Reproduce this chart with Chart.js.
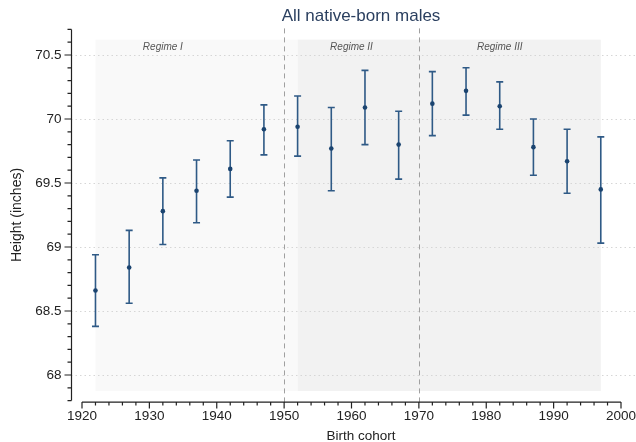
<!DOCTYPE html>
<html>
<head>
<meta charset="utf-8">
<script src="https://cdn.jsdelivr.net/npm/chart.js@4"></script>
<style>
  html, body { margin: 0; padding: 0; background: #ffffff; }
  #wrap { width: 636px; height: 442px; }
</style>
</head>
<body>
<div id="wrap"><canvas id="chart" width="636" height="442"></canvas></div>
<script>
// Mean height by five-year birth cohort, with 95% confidence bounds
const cohorts    = [1922, 1927, 1932, 1937, 1942, 1947, 1952, 1957, 1962, 1967, 1972, 1977, 1982, 1987, 1992, 1997];
const meanHeight = [68.66, 68.84, 69.28, 69.44, 69.61, 69.92, 69.94, 69.77, 70.09, 69.80, 70.12, 70.22, 70.10, 69.78, 69.67, 69.45];
const ciLow      = [68.38, 68.56, 69.02, 69.19, 69.39, 69.72, 69.71, 69.44, 69.80, 69.53, 69.87, 70.03, 69.92, 69.56, 69.42, 69.03];
const ciHigh     = [68.94, 69.13, 69.54, 69.68, 69.83, 70.11, 70.18, 70.09, 70.38, 70.06, 70.37, 70.40, 70.29, 70.00, 69.92, 69.86];

// Regimes and the cohort years that separate them
const regimeNames  = ['Regime I', 'Regime II', 'Regime III'];
const regimeLabelX = [1932, 1960, 1982];
const breakYears   = [1950, 1970];
const regimeSpans  = [[1922, 1952], [1952, 1997]];

// Axis ticks
const yTicks = [68, 68.5, 69, 69.5, 70, 70.5];
const xTicks = [1920, 1930, 1940, 1950, 1960, 1970, 1980, 1990, 2000];

const FONT = '"Liberation Sans", Arial, Helvetica, sans-serif';
const BAR_COLOR = '#2f5a86';
const POINT_COLOR = '#1b4470';

const decorations = {
  id: 'decorations',
  beforeDatasetsDraw(chart) {
    const { ctx, chartArea } = chart;
    const xs = chart.scales.x, ys = chart.scales.y;
    const axisX = chartArea.left - 11;

    ctx.save();
    // regime shading
    const shadeColors = ['#f9f9f9', '#f2f2f2'];
    const shTop = ys.getPixelForValue(70.62), shBot = ys.getPixelForValue(67.875);
    regimeSpans.forEach((s, i) => {
      const x0 = xs.getPixelForValue(s[0]), x1 = xs.getPixelForValue(s[1]);
      ctx.fillStyle = shadeColors[i];
      ctx.fillRect(x0, shTop, x1 - x0, shBot - shTop);
    });

    // dotted horizontal grid
    ctx.strokeStyle = '#d6d6d6';
    ctx.lineWidth = 1;
    ctx.setLineDash([1.5, 3]);
    yTicks.forEach(v => {
      const y = Math.round(ys.getPixelForValue(v)) + 0.5;
      ctx.beginPath();
      ctx.moveTo(axisX, y);
      ctx.lineTo(chart.width, y);
      ctx.stroke();
    });

    // regime boundaries
    ctx.strokeStyle = '#a0a0a0';
    ctx.setLineDash([5, 4]);
    breakYears.forEach(yr => {
      const x = Math.round(xs.getPixelForValue(yr)) + 0.5;
      ctx.beginPath();
      ctx.moveTo(x, chartArea.top - 1);
      ctx.lineTo(x, chartArea.bottom + 3);
      ctx.stroke();
    });
    ctx.setLineDash([]);

    // error bars
    ctx.strokeStyle = BAR_COLOR;
    ctx.lineWidth = 1.6;
    cohorts.forEach((c, i) => {
      const x = xs.getPixelForValue(c);
      const yl = ys.getPixelForValue(ciLow[i]);
      const yh = ys.getPixelForValue(ciHigh[i]);
      ctx.beginPath();
      ctx.moveTo(x, yl); ctx.lineTo(x, yh);
      ctx.moveTo(x - 3.5, yl); ctx.lineTo(x + 3.5, yl);
      ctx.moveTo(x - 3.5, yh); ctx.lineTo(x + 3.5, yh);
      ctx.stroke();
    });

    // regime labels
    ctx.fillStyle = '#555555';
    ctx.font = 'italic 10px ' + FONT;
    ctx.textAlign = 'center';
    ctx.textBaseline = 'middle';
    regimeNames.forEach((n, i) => {
      ctx.fillText(n, xs.getPixelForValue(regimeLabelX[i]), shTop + 8);
    });
    ctx.restore();
  },
  afterDraw(chart) {
    const { ctx, chartArea } = chart;
    const xs = chart.scales.x, ys = chart.scales.y;
    const axisX = chartArea.left - 10.5;
    const axisY = chartArea.bottom + 1.5;

    ctx.save();
    ctx.strokeStyle = '#222222';
    ctx.lineWidth = 1.2;
    // y axis spine and ticks
    ctx.beginPath();
    ctx.moveTo(axisX, chartArea.top);
    ctx.lineTo(axisX, chartArea.bottom);
    for (let k = 678; k <= 707; k++) {
      const v = k / 10;
      const y = ys.getPixelForValue(v);
      const major = k % 5 === 0;
      ctx.moveTo(axisX, y);
      ctx.lineTo(axisX - (major ? 7 : 4), y);
    }
    // x axis spine and ticks
    ctx.moveTo(xs.getPixelForValue(1920), axisY);
    ctx.lineTo(xs.getPixelForValue(2000), axisY);
    for (let yr = 1920; yr <= 2000; yr += 2) {
      const x = xs.getPixelForValue(yr);
      const major = yr % 10 === 0;
      ctx.moveTo(x, axisY);
      ctx.lineTo(x, axisY + (major ? 6.5 : 3.5));
    }
    ctx.stroke();

    // chart title
    ctx.fillStyle = '#2a3f5f';
    ctx.font = '17px ' + FONT;
    ctx.textAlign = 'center';
    ctx.textBaseline = 'middle';
    ctx.fillText('All native-born males', 361, 16);

    // x axis title
    ctx.fillStyle = '#222222';
    ctx.font = '13.5px ' + FONT;
    ctx.fillText('Birth cohort', 361, 436);
    ctx.restore();
  }
};

new Chart(document.getElementById('chart'), {
  type: 'scatter',
  data: {
    datasets: [{
      label: 'Mean height',
      data: cohorts.map((c, i) => ({ x: c, y: meanHeight[i] })),
      pointRadius: 2.3,
      pointHoverRadius: 2.3,
      pointBackgroundColor: POINT_COLOR,
      pointBorderWidth: 0,
      showLine: false
    }]
  },
  options: {
    responsive: false,
    animation: false,
    devicePixelRatio: 1,
    layout: { padding: { top: 29.4, right: 15, left: 0, bottom: 0 } },
    plugins: {
      legend: { display: false },
      tooltip: { enabled: false },
      title: { display: false }
    },
    scales: {
      x: {
        type: 'linear',
        min: 1920,
        max: 2000,
        afterBuildTicks: s => { s.ticks = xTicks.map(v => ({ value: v })); },
        ticks: {
          color: '#222222',
          font: { family: FONT, size: 13.5 },
          padding: 8,
          maxRotation: 0,
          callback: v => String(v)
        },
        grid: { display: false, drawTicks: false },
        border: { display: false },
        afterFit: s => { s.height = 41.4; s.paddingLeft = 0; s.paddingRight = 0; }
      },
      y: {
        type: 'linear',
        min: 67.8,
        max: 70.7,
        afterBuildTicks: s => { s.ticks = yTicks.map(v => ({ value: v })); },
        ticks: {
          color: '#222222',
          font: { family: FONT, size: 13.5 },
          padding: 20.5,
          callback: v => String(v)
        },
        grid: { display: false, drawTicks: false },
        border: { display: false },
        title: {
          display: true,
          text: 'Height (inches)',
          color: '#222222',
          font: { family: FONT, size: 14 },
          padding: { top: 9, bottom: 0 }
        },
        afterFit: s => { s.width = 82; s.paddingTop = 0; s.paddingBottom = 0; }
      }
    }
  },
  plugins: [decorations]
});
</script>
</body>
</html>
